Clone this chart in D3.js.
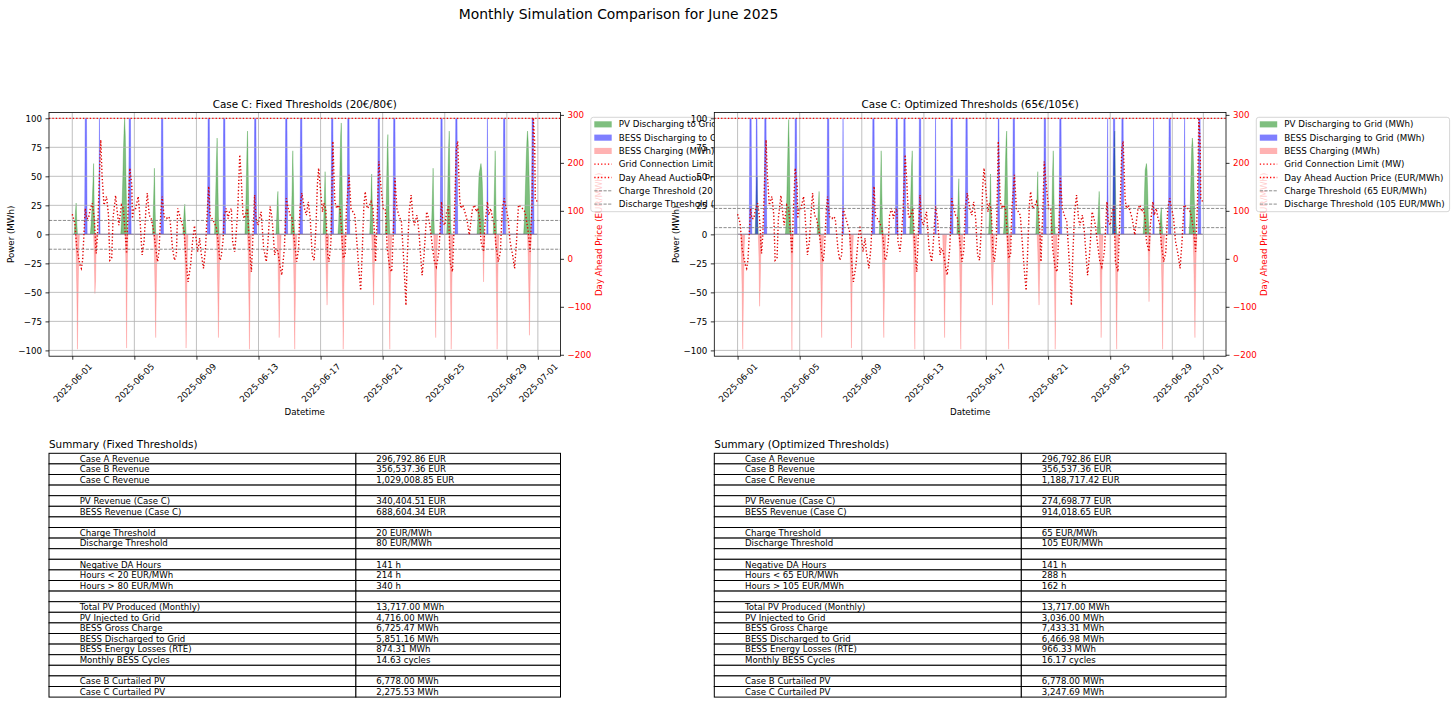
<!DOCTYPE html>
<html>
<head>
<meta charset="utf-8">
<script src="https://cdn.jsdelivr.net/npm/d3@7"></script>
<style>
  body { margin: 0; background: #fff; }
  svg { display: block; font-family: "DejaVu Sans", sans-serif; }
</style>
</head>
<body>
<script>
const W = 1456, H = 704;
const start = Date.UTC(2025, 5, 1); // 2025-06-01 00:00

// x ticks
const tickLabels = ["2025-06-01", "2025-06-05", "2025-06-09", "2025-06-13", "2025-06-17",
  "2025-06-21", "2025-06-25", "2025-06-29", "2025-07-01"];
const powerTicks = [-100, -75, -50, -25, 0, 25, 50, 75, 100];
const priceTicks = [-200, -100, 0, 100, 200, 300];

// day ahead price, [hour since 06-01 00:00, EUR/MWh]
const priceKnots = [
  [0,93],[4,74],[7,22],[12,-13],[14,-20],[16,-3],[18,50],[20,105],[22,84],[25,84],[28,105],[31,116],
  [34,84],[37,11],[39,50],[42,175],[44,248],[46,175],[49,112],[53,130],[56,91],[58,-3],[61,1],[63,84],
  [67,132],[69,105],[72,70],[76,112],[79,105],[82,50],[84,11],[86,91],[89,189],[92,154],[93,84],[95,105],
  [98,105],[102,130],[104,98],[108,8],[111,36],[114,105],[116,137],[119,91],[122,84],[126,57],[129,22],
  [132,-6],[134,15],[137,98],[139,130],[142,88],[146,84],[148,88],[151,84],[155,22],[158,-3],[161,8],
  [163,105],[166,91],[169,77],[173,57],[175,15],[179,-48],[183,-13],[186,36],[189,69],[192,36],[194,15],
  [197,43],[199,15],[203,-20],[206,22],[209,105],[211,151],[213,91],[216,84],[219,77],[223,64],[226,29],
  [228,-3],[230,1],[233,36],[235,91],[238,105],[241,84],[243,98],[246,105],[248,36],[251,15],[253,43],
  [256,105],[259,217],[261,175],[264,91],[266,84],[271,105],[274,22],[277,-27],[279,36],[282,133],[284,84],
  [287,70],[292,98],[296,22],[300,-6],[302,22],[306,109],[309,84],[313,8],[315,22],[318,15],[321,-13],
  [324,-34],[328,22],[331,126],[334,105],[337,91],[340,84],[343,43],[347,-6],[350,22],[352,105],[355,137],
  [359,105],[362,91],[365,119],[368,84],[371,8],[374,-3],[377,70],[379,154],[381,189],[384,140],[387,98],
  [389,116],[392,105],[395,8],[397,-6],[400,36],[403,245],[406,119],[409,105],[411,112],[414,105],[416,70],
  [419,1],[422,8],[424,105],[428,175],[431,105],[434,98],[437,91],[440,36],[443,-20],[446,-66],[448,1],
  [451,112],[453,140],[456,105],[459,109],[462,119],[465,105],[468,36],[469,-6],[472,105],[474,203],
  [477,154],[481,105],[484,105],[487,22],[491,-20],[494,-27],[496,36],[499,168],[502,105],[505,91],[509,77],
  [513,-13],[516,-97],[518,1],[521,98],[524,133],[527,84],[529,70],[533,91],[536,57],[539,1],[541,-34],
  [544,8],[546,50],[548,98],[551,84],[553,70],[556,36],[560,-6],[563,-17],[567,15],[571,119],[573,77],
  [576,70],[579,98],[582,109],[584,-6],[588,-27],[590,50],[594,231],[596,245],[599,126],[601,105],[604,112],
  [607,98],[610,84],[614,50],[617,84],[619,105],[622,112],[625,98],[627,105],[630,84],[632,36],[636,15],
  [638,70],[642,119],[644,91],[647,105],[650,84],[653,70],[655,29],[659,-6],[662,15],[665,105],[668,126],
  [671,105],[674,84],[677,36],[681,8],[684,-20],[687,36],[690,112],[693,109],[696,105],[700,98],[702,84],
  [705,57],[708,15],[711,119],[713,294],[715,245],[716,126],[719,119]
];

// hourly power events, [first hour, [MWh per hour...]], zero everywhere else
const pvFixed = [
  [4,[8,20,27,10]], [29,[8,18,30,45,61,20]], [76,[10,25,45,70,88,100,85,50,20,5]],
  [125,[15,35,57,25]], [172,[10,20,26,12]], [221,[15,40,65,83,50,15]], [268,[15,40,70,89,55,15]],
  [316,[12,28,37,15]], [339,[15,40,72,45,10]], [389,[15,35,54,25]], [412,[10,30,60,85,96,55,15]],
  [461,[15,35,52,25]], [485,[10,40,70,86,50,15]], [556,[15,35,57,20]], [580,[15,50,75,89,45,10]],
  [627,[10,35,52,55,58,61,56,45,25,8]], [652,[20,45,72,30]], [699,[10,25,45,65,80,89,80,60,35,12]]
];
const bessDisFixed = [
  [20,[100,100,100]], [42,[100]], [88,[100,100,100]], [138,[100,100,100]], [210,[100,100,100]],
  [234,[100,100,100]], [282,[100,100,100]], [330,[100,100,100]], [353,[100,100,100]],
  [401,[100,100,100]], [426,[100,100,100]], [473,[100,100,100]], [497,[100,100,100]],
  [570,[100,100,100]], [593,[100,100,100]], [642,[100]], [667,[100,100,100]], [711,[100,100,100]]
];
const chargeFixed = [
  [6,[-20,-50,-99,-55,-15]], [34,[-20,-51,-40,-10]], [83,[-30,-98,-30]], [127,[-20,-50,-89,-45,-10]],
  [174,[-15,-50,-98,-50,-15]], [224,[-20,-50,-89,-50,-15]], [272,[-15,-55,-99,-45,-10]],
  [318,[-20,-50,-89,-45,-12]], [342,[-15,-50,-99,-55,-15]], [392,[-20,-40,-61,-35,-10]],
  [417,[-15,-55,-99,-50,-20]], [464,[-15,-40,-61,-30,-10]], [489,[-20,-50,-99,-45,-15]],
  [560,[-20,-50,-89,-40,-12]], [584,[-15,-55,-99,-45,-15]], [635,[-15,-41,-15]],
  [655,[-20,-50,-99,-40,-10]], [705,[-20,-50,-87,-45,-12]]
];

const pvOpt = [
  [28,[15,35,50,15]], [75,[10,30,55,80,99,70,30,8]], [124,[12,25,37,12]], [220,[15,45,72,35,10]],
  [267,[15,40,60,72,25]], [340,[15,30,48,15]], [389,[12,30,52,20]], [412,[10,35,60,80,89,45,12]],
  [462,[15,35,54,20]], [485,[8,25,55,72,35,10]], [557,[12,25,37,12]], [580,[15,50,75,89,45,10]],
  [628,[10,35,55,58,61,55,35,12]], [653,[10,18,23,10]], [699,[10,30,55,75,83,75,55,30,10]]
];
const bessDisOpt = [
  [19,[100,100,100]], [29,[100,100]], [42,[100,100,100]], [89,[100,100,100]], [139,[100,100,100]],
  [163,[100]], [209,[100,100,100]], [245,[100,100,100]], [257,[100,100,100]], [281,[100,100,100]],
  [306,[100]], [330,[100,100,100]], [353,[100,100,100]], [403,[100,100]], [426,[100,100,100]],
  [474,[100,100,100]], [498,[100,100,100]], [572,[100]], [581,[100,100,100]], [594,[100,100,100]],
  [643,[100]], [667,[100,100,100]], [691,[100]], [713,[100,100,100]]
];
const chargeOpt = [
  [6,[-20,-50,-99,-55,-15]], [33,[-20,-62,-45,-10]], [83,[-30,-100,-30]], [128,[-20,-50,-89,-45,-10]],
  [174,[-15,-50,-98,-50,-15]], [224,[-20,-50,-89,-50,-15]], [272,[-15,-55,-99,-45,-10]],
  [318,[-20,-50,-89,-45,-12]], [343,[-15,-50,-99,-55,-15]], [392,[-20,-40,-61,-35,-10]],
  [417,[-15,-55,-99,-50,-20]], [464,[-15,-40,-61,-30,-10]], [489,[-20,-50,-99,-45,-15]],
  [560,[-20,-50,-89,-40,-12]], [584,[-15,-55,-99,-45,-15]], [635,[-20,-58,-20]],
  [655,[-20,-50,-99,-40,-10]], [705,[-20,-50,-89,-45,-12]]
];

const summaryLabels = [
  "Case A Revenue", "Case B Revenue", "Case C Revenue", "",
  "PV Revenue (Case C)", "BESS Revenue (Case C)", "",
  "Charge Threshold", "Discharge Threshold", "",
  "Negative DA Hours", "Hours < 20 EUR/MWh", "Hours > 80 EUR/MWh", "",
  "Total PV Produced (Monthly)", "PV Injected to Grid", "BESS Gross Charge",
  "BESS Discharged to Grid", "BESS Energy Losses (RTE)", "Monthly BESS Cycles", "",
  "Case B Curtailed PV", "Case C Curtailed PV"
];
const summaryLabelsOpt = summaryLabels.map(s => s
  .replace("< 20", "< 65").replace("> 80", "> 105"));
const summaryFixed = [
  "296,792.86 EUR", "356,537.36 EUR", "1,029,008.85 EUR", "",
  "340,404.51 EUR", "688,604.34 EUR", "",
  "20 EUR/MWh", "80 EUR/MWh", "",
  "141 h", "214 h", "340 h", "",
  "13,717.00 MWh", "4,716.00 MWh", "6,725.47 MWh", "5,851.16 MWh", "874.31 MWh", "14.63 cycles", "",
  "6,778.00 MWh", "2,275.53 MWh"
];
const summaryOpt = [
  "296,792.86 EUR", "356,537.36 EUR", "1,188,717.42 EUR", "",
  "274,698.77 EUR", "914,018.65 EUR", "",
  "65 EUR/MWh", "105 EUR/MWh", "",
  "141 h", "288 h", "162 h", "",
  "13,717.00 MWh", "3,036.00 MWh", "7,433.31 MWh", "6,466.98 MWh", "966.33 MWh", "16.17 cycles", "",
  "6,778.00 MWh", "3,247.69 MWh"
];

// layout
const axTop = 112.5, axBottom = 356.2;
const fs = 8.7; // small text size

const hourDate = (h) => new Date(start + h * 3600e3);
const tickDates = tickLabels.map((s) => new Date(s + "T00:00:00Z"));

function expand(events) {
  const arr = new Array(720).fill(0);
  events.forEach(([h, vals]) => vals.forEach((v, i) => (arr[h + i] = v)));
  return arr;
}

const svg = d3.select("body").append("svg").attr("width", W).attr("height", H);
svg.append("defs");

svg.append("text")
  .attr("x", 618.5).attr("y", 19)
  .attr("text-anchor", "middle")
  .attr("font-size", 13.9)
  .text("Monthly Simulation Comparison for June 2025");

function drawChart(cfg) {
  const x = d3.scaleUtc().domain([hourDate(-36), hourDate(755)]).range([cfg.x0, cfg.x1]);
  const yL = d3.scaleLinear().domain([-105, 105]).range([axBottom, axTop]);
  const yR = d3.scaleLinear().domain([-203, 305]).range([axBottom, axTop]);

  const g = svg.append("g");
  g.append("rect")
    .attr("x", cfg.x0).attr("y", axTop)
    .attr("width", cfg.x1 - cfg.x0).attr("height", axBottom - axTop)
    .attr("fill", "#fff");

  svg.select("defs").append("clipPath").attr("id", cfg.id)
    .append("rect")
    .attr("x", cfg.x0).attr("y", axTop)
    .attr("width", cfg.x1 - cfg.x0).attr("height", axBottom - axTop);

  const plot = g.append("g").attr("clip-path", `url(#${cfg.id})`);

  // power fills
  const area = d3.area()
    .x((d, i) => x(hourDate(i)))
    .y0(yL(0))
    .y1((d) => yL(d));
  const fills = [
    [cfg.pv, "green", 0.5],
    [cfg.dis, "blue", 0.5],
    [cfg.chg, "red", 0.3],
  ];
  fills.forEach(([ev, col, op]) => {
    plot.append("path")
      .datum(expand(ev))
      .attr("d", area)
      .attr("fill", col).attr("fill-opacity", op)
      .attr("stroke", col).attr("stroke-opacity", op).attr("stroke-width", 0.5);
  });

  // grid
  plot.selectAll("line.vgrid").data(tickDates).join("line")
    .attr("x1", (d) => x(d)).attr("x2", (d) => x(d))
    .attr("y1", axTop).attr("y2", axBottom)
    .attr("stroke", "#b0b0b0").attr("stroke-width", 0.8);
  plot.selectAll("line.hgrid").data(powerTicks).join("line")
    .attr("x1", cfg.x0).attr("x2", cfg.x1)
    .attr("y1", (d) => yL(d)).attr("y2", (d) => yL(d))
    .attr("stroke", "#b0b0b0").attr("stroke-width", 0.8);

  // grid connection limit
  plot.append("line")
    .attr("x1", cfg.x0).attr("x2", cfg.x1)
    .attr("y1", yL(100)).attr("y2", yL(100))
    .attr("stroke", "red").attr("stroke-width", 1.3).attr("stroke-dasharray", "1.3,2.1");

  // price
  plot.append("path")
    .datum(priceKnots)
    .attr("d", d3.line().x((d) => x(hourDate(d[0]))).y((d) => yR(d[1])))
    .attr("fill", "none")
    .attr("stroke", "#e00000").attr("stroke-width", 1.4).attr("stroke-dasharray", "1.3,2.1");

  // thresholds
  cfg.thresholds.forEach((t) => {
    plot.append("line")
      .attr("x1", cfg.x0).attr("x2", cfg.x1)
      .attr("y1", yR(t)).attr("y2", yR(t))
      .attr("stroke", "gray").attr("stroke-width", 0.9).attr("stroke-dasharray", "3.2,1.4");
  });

  // axes
  const styleAxis = (sel, col) => {
    sel.select(".domain").remove();
    sel.selectAll(".tick line").attr("stroke", "#000").attr("stroke-width", 0.8);
    sel.selectAll(".tick text").attr("font-size", fs).attr("font-family", "DejaVu Sans").attr("fill", col);
  };
  g.append("g").attr("transform", `translate(${cfg.x0},0)`)
    .call(d3.axisLeft(yL).tickValues(powerTicks).tickSize(3.5).tickPadding(3.5))
    .call((s) => styleAxis(s, "#000"));
  g.append("g").attr("transform", `translate(${cfg.x1},0)`)
    .call(d3.axisRight(yR).tickValues(priceTicks).tickSize(3.5).tickPadding(3.5))
    .call((s) => styleAxis(s, "red"));
  const xa = g.append("g").attr("transform", `translate(0,${axBottom})`)
    .call(d3.axisBottom(x).tickValues(tickDates).tickFormat(d3.utcFormat("%Y-%m-%d")).tickSize(3.5))
    .call((s) => styleAxis(s, "#000"));
  xa.selectAll(".tick text")
    .attr("y", 0).attr("dy", null)
    .attr("text-anchor", "middle")
    .attr("dominant-baseline", "central")
    .attr("transform", "translate(0,26.6) rotate(-45)");

  // frame
  g.append("rect")
    .attr("x", cfg.x0).attr("y", axTop)
    .attr("width", cfg.x1 - cfg.x0).attr("height", axBottom - axTop)
    .attr("fill", "none").attr("stroke", "#000").attr("stroke-width", 0.8);

  // titles and labels
  const cx = (cfg.x0 + cfg.x1) / 2;
  g.append("text").attr("x", cx).attr("y", 107.5)
    .attr("text-anchor", "middle").attr("font-size", 10.4).text(cfg.title);
  g.append("text").attr("x", cx).attr("y", 415)
    .attr("text-anchor", "middle").attr("font-size", fs).text("Datetime");
  g.append("text")
    .attr("transform", `translate(${cfg.x0 - 35.5},${(axTop + axBottom) / 2}) rotate(-90)`)
    .attr("text-anchor", "middle").attr("font-size", fs).text("Power (MWh)");
  g.append("text")
    .attr("transform", `translate(${cfg.x1 + 41},${(axTop + axBottom) / 2}) rotate(-90)`)
    .attr("text-anchor", "middle").attr("font-size", fs).attr("fill", "red")
    .text("Day Ahead Price (EUR/MWh)");

  // legend
  const lx = cfg.x1 + 30.3, ly = 117.3;
  const lg = g.append("g");
  lg.append("rect")
    .attr("x", lx).attr("y", ly).attr("width", 193.3).attr("height", 94.4).attr("rx", 2.5)
    .attr("fill", "#fff").attr("fill-opacity", 0.8)
    .attr("stroke", "#cccccc").attr("stroke-width", 0.8);
  const items = [
    { t: "PV Discharging to Grid (MWh)", kind: "patch", c: "green", o: 0.5 },
    { t: "BESS Discharging to Grid (MWh)", kind: "patch", c: "blue", o: 0.5 },
    { t: "BESS Charging (MWh)", kind: "patch", c: "red", o: 0.3 },
    { t: "Grid Connection Limit (MW)", kind: "line", c: "red", dash: "1.3,2.1", w: 1.3 },
    { t: "Day Ahead Auction Price (EUR/MWh)", kind: "line", c: "red", dash: "1.3,2.1", w: 1.3 },
    { t: `Charge Threshold (${cfg.thresholds[0]} EUR/MWh)`, kind: "line", c: "gray", dash: "3.2,1.4", w: 0.9 },
    { t: `Discharge Threshold (${cfg.thresholds[1]} EUR/MWh)`, kind: "line", c: "gray", dash: "3.2,1.4", w: 0.9 },
  ];
  items.forEach((it, i) => {
    const cy = ly + 7 + i * 13.3;
    if (it.kind === "patch") {
      lg.append("rect").attr("x", lx + 3.5).attr("y", cy - 3).attr("width", 17.4).attr("height", 6.1)
        .attr("fill", it.c).attr("fill-opacity", it.o);
    } else {
      lg.append("line").attr("x1", lx + 3.5).attr("x2", lx + 20.9).attr("y1", cy).attr("y2", cy)
        .attr("stroke", it.c).attr("stroke-width", it.w).attr("stroke-dasharray", it.dash);
    }
    lg.append("text").attr("x", lx + 28).attr("y", cy).attr("dominant-baseline", "central")
      .attr("font-size", fs).text(it.t);
  });
}

function drawTable(x0, x1, title, labels, values) {
  const g = svg.append("g");
  const top = 453.3, rowH = 10.6;
  const w = x1 - x0, c1 = w * 0.6, c2 = w * 0.4;
  g.append("text").attr("x", x0).attr("y", 448.3).attr("font-size", 10.4).text(title);
  labels.forEach((lab, i) => {
    const y = top + i * rowH;
    g.append("rect").attr("x", x0).attr("y", y).attr("width", c1).attr("height", rowH)
      .attr("fill", "#fff").attr("stroke", "#000").attr("stroke-width", 1);
    g.append("rect").attr("x", x0 + c1).attr("y", y).attr("width", c2).attr("height", rowH)
      .attr("fill", "#fff").attr("stroke", "#000").attr("stroke-width", 1);
    g.append("text").attr("x", x0 + c1 * 0.1).attr("y", y + rowH / 2).attr("dominant-baseline", "central")
      .attr("font-size", 8.6).text(lab);
    g.append("text").attr("x", x0 + c1 + c2 * 0.1).attr("y", y + rowH / 2).attr("dominant-baseline", "central")
      .attr("font-size", 8.6).text(values[i]);
  });
}

drawChart({
  id: "clipFixed", x0: 49, x1: 560.5,
  title: "Case C: Fixed Thresholds (20€/80€)",
  pv: pvFixed, dis: bessDisFixed, chg: chargeFixed, thresholds: [20, 80],
});
drawChart({
  id: "clipOpt", x0: 714.3, x1: 1226,
  title: "Case C: Optimized Thresholds (65€/105€)",
  pv: pvOpt, dis: bessDisOpt, chg: chargeOpt, thresholds: [65, 105],
});

drawTable(49, 560.5, "Summary (Fixed Thresholds)", summaryLabels, summaryFixed);
drawTable(714.3, 1226, "Summary (Optimized Thresholds)", summaryLabelsOpt, summaryOpt);
</script>
</body>
</html>
